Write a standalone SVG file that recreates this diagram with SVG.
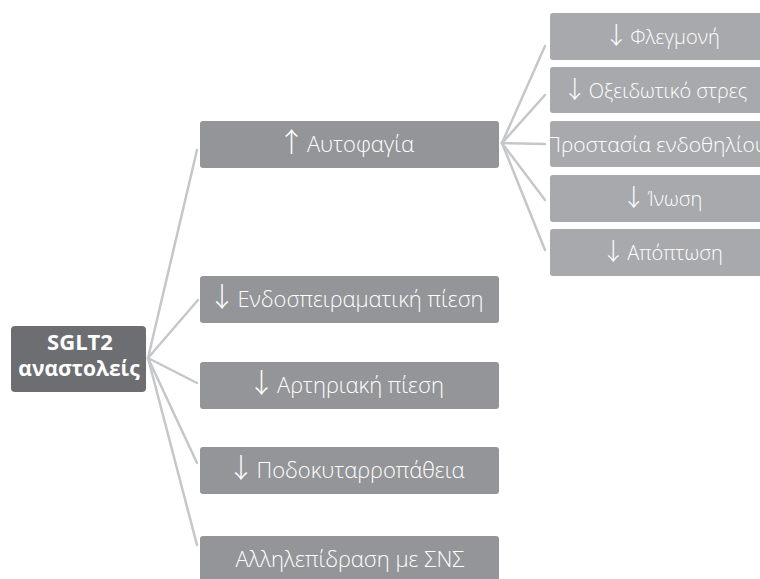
<svg xmlns="http://www.w3.org/2000/svg" width="760" height="579" viewBox="0 0 760 579">
<style>
.main rect{fill:#939598}
.sub rect{fill:#a7a9ac}
.root rect{fill:#6d6e71}
text{font-family:"Open Sans","Liberation Sans",sans-serif;fill:#ffffff;text-anchor:middle}
.main text{font-size:22px;font-weight:300}
.sub text{font-size:20px;font-weight:300}
.root text{font-size:21px;font-weight:700}
.ar{font-family:"Noto Sans CJK JP",sans-serif;font-weight:300;font-size:27px}
.sub .ar{font-size:24px}
#connectors line{stroke:#c6c7c9;stroke-width:2.5;stroke-linecap:round}
</style>
<rect width="760" height="579" fill="#ffffff"/>
<g id="connectors">
<line x1="148" y1="358" x2="197" y2="150"/>
<line x1="148" y1="358" x2="198" y2="300"/>
<line x1="148" y1="358" x2="197" y2="383"/>
<line x1="148" y1="358" x2="197" y2="463"/>
<line x1="148" y1="358" x2="197" y2="545"/>
<line x1="502" y1="143" x2="545" y2="46"/>
<line x1="502" y1="143" x2="545" y2="95"/>
<line x1="502" y1="143" x2="545" y2="144"/>
<line x1="502" y1="143" x2="545" y2="200"/>
<line x1="502" y1="143" x2="545" y2="250"/>
</g>
<g id="root" class="root">
<rect x="11" y="326" width="135" height="66" rx="4"/>
<text x="80" y="350" style="font-size:22px">SGLT2</text>
<text x="79" y="376">αναστολείς</text>
</g>
<g id="autofagia" class="main">
<rect x="200" y="121" width="299" height="47" rx="3"/>
<text x="346" y="152"><tspan class="ar">↑</tspan><tspan dx="2">Αυτοφαγία</tspan></text>
</g>
<g id="endospeiramatiki" class="main">
<rect x="200" y="276" width="299" height="47" rx="3"/>
<text x="346" y="307"><tspan class="ar">↓</tspan><tspan dx="2">Ενδοσπειραματική πίεση</tspan></text>
</g>
<g id="artiriaki" class="main">
<rect x="200" y="362" width="299" height="47" rx="3"/>
<text x="346" y="393"><tspan class="ar">↓</tspan><tspan dx="2">Αρτηριακή πίεση</tspan></text>
</g>
<g id="podokyttaro" class="main">
<rect x="200" y="447" width="299" height="47" rx="3"/>
<text x="346" y="478"><tspan class="ar">↓</tspan><tspan dx="2">Ποδοκυταρροπάθεια</tspan></text>
</g>
<g id="allilepidrasi" class="main">
<rect x="200" y="536" width="299" height="47" rx="3"/>
<text x="350" y="567">Αλληλεπίδραση με ΣΝΣ</text>
</g>
<g id="flegmoni" class="sub">
<rect x="550" y="13" width="232" height="47" rx="3"/>
<text x="662" y="44"><tspan class="ar">↓</tspan><tspan dx="2">Φλεγμονή</tspan></text>
</g>
<g id="oxeidotiko" class="sub">
<rect x="550" y="67" width="232" height="46" rx="3"/>
<text x="655" y="98"><tspan class="ar">↓</tspan><tspan dx="2">Οξειδωτικό στρες</tspan></text>
</g>
<g id="prostasia" class="sub">
<rect x="550" y="121" width="232" height="46" rx="3"/>
<text x="546" y="152" style="text-anchor:start;font-size:21px">Προστασία ενδοθηλίου</text>
</g>
<g id="inosi" class="sub">
<rect x="550" y="175" width="232" height="47" rx="3"/>
<text x="662" y="206"><tspan class="ar">↓</tspan><tspan dx="2">Ίνωση</tspan></text>
</g>
<g id="apoptosi" class="sub">
<rect x="550" y="229" width="232" height="47" rx="3"/>
<text x="662" y="260"><tspan class="ar">↓</tspan><tspan dx="2">Απόπτωση</tspan></text>
</g>
</svg>
